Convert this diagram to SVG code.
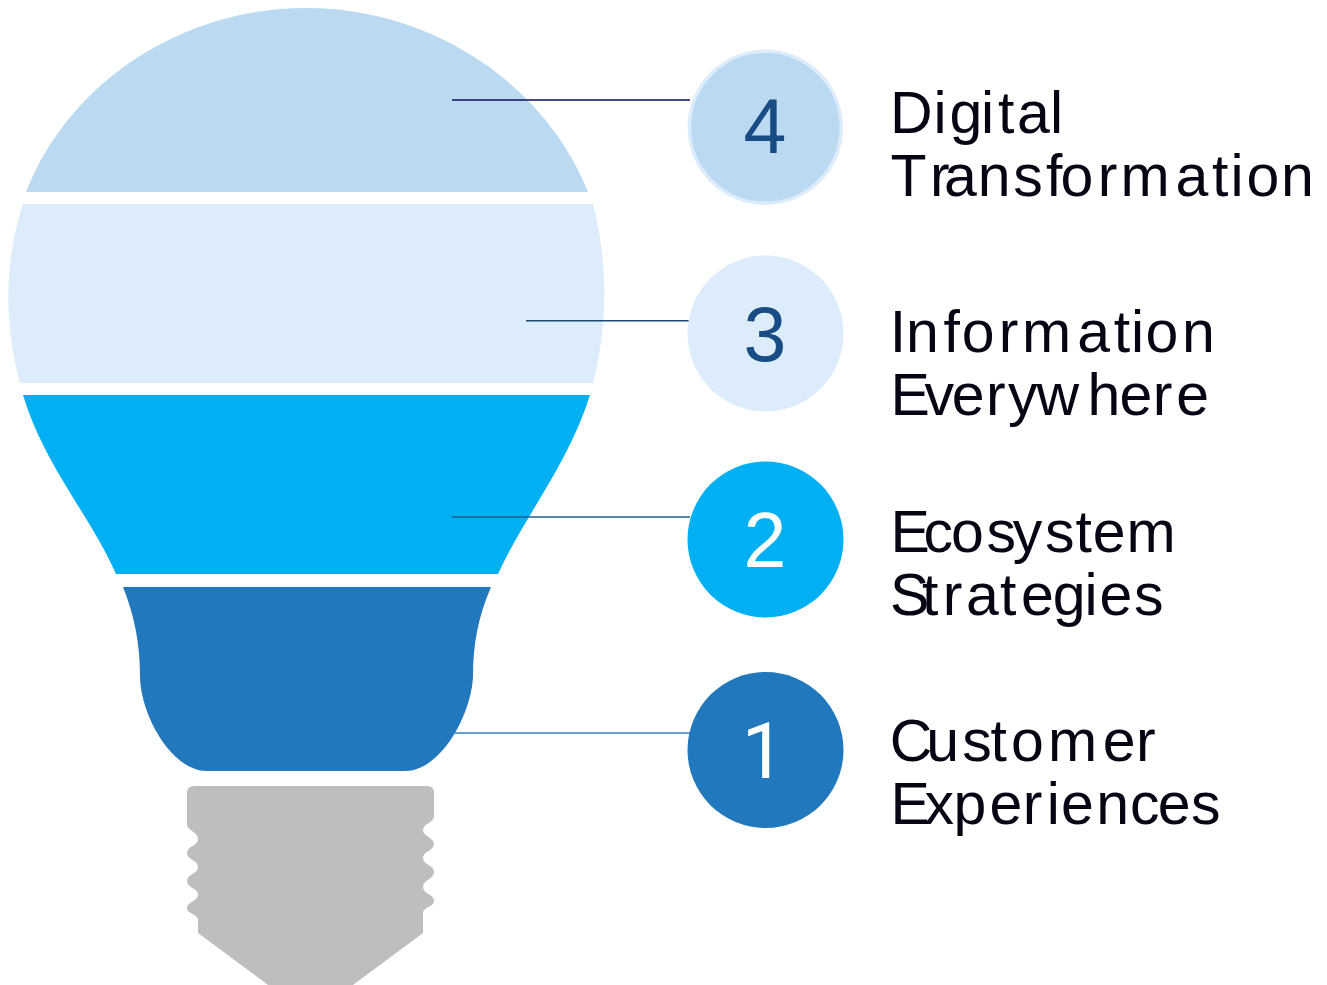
<svg xmlns="http://www.w3.org/2000/svg" width="1327" height="985" viewBox="0 0 1327 985">
<style>
text{font-family:"Liberation Sans",Arial,sans-serif}
.t{font-size:59px;fill:#050514}
.n{font-size:77px;text-anchor:middle}
.l{fill:none;stroke-width:1.5}
</style>
<rect width="1327" height="985" fill="#fff"/>
<g id="seg4"><path d="M26 192C68 84 180 8 306 8C432 8 545 84 588 192Z" fill="#bbdaf2"/></g>
<g id="seg3"><path d="M23 204H593C608 262 608 325 593 383H20C4 325 4 262 23 204Z" fill="#ddecfa"/></g>
<g id="seg2"><path d="M23 395H590C568 465 525 515 498 574H116C90 515 44 465 23 395Z" fill="#00b0f3"/></g>
<g id="seg1"><path d="M123 587H491C478 617 473 645 473 676C472 712 442 771 405 771H207C170 771 140 712 140 676C140 645 135 617 123 587Z" fill="#2278bc"/></g>
<g id="base"><path d="M187 793Q187 786 194 786H427Q434 786 434 793V817C434 822 423 824 423 830C423 836 434 838 434 844C434 851 423 851 423 858C423 865 434 865 434 872C434 879 423 880 423 887C423 894 434 894 434 901C434 907 423 907 423 913V933L353 985H268L198 933V920C198 914 187 914 187 908C187 902 198 901 198 895C198 888 187 888 187 881C187 874 198 874 198 867C198 860 187 860 187 853C187 846 198 846 198 839C198 832 187 830 187 825Z" fill="#bebebe"/></g>
<g id="connectors">
<line class="l" x1="452" y1="100" x2="690" y2="100" stroke="#0c1058"/>
<line class="l" x1="526" y1="320.700" x2="690" y2="320.700" stroke="#1a4a70"/>
<line class="l" x1="452" y1="517" x2="690" y2="517" stroke="#1f6090"/>
<line class="l" x1="452" y1="733" x2="690" y2="733" stroke="#2f80c8"/>
</g>
<g id="node4"><circle cx="765.300" cy="127.300" r="76" fill="#bbdaf2" stroke="#ddecfa" stroke-width="3.500"/><text class="n" x="765" y="153" fill="#174c84">4</text><text class="t"><tspan x="889.9 933.4 949.4 981.1 998.1 1017 1050" y="132.500">Digital</tspan><tspan x="890.5 930 944 977.7 1013.3 1046 1060.5 1097.7 1120.5 1175.5 1212.1 1230.4 1246.5 1281" y="196">Transformation</tspan></text></g>
<g id="node3"><circle cx="765.500" cy="333.500" r="78" fill="#ddecfa"/><text class="n" x="765" y="361" fill="#174c84">3</text><text class="t"><tspan x="889.7 906 943.4 961.7 998.7 1021.9 1077.2 1113.8 1131.1 1145.5 1182" y="351.500">Information</tspan><tspan x="890.4 924.4 951.7 986 1008 1036.5 1087.5 1119.4 1152.7 1176.2" y="415">Everywhere</tspan></text></g>
<g id="node2"><circle cx="765.500" cy="539.500" r="78" fill="#00b0f3"/><text class="n" x="765" y="566.500" fill="#fff">2</text><text class="t"><tspan x="890.4 923.5 951 986.6 1012.7 1045 1075.5 1092.7 1126.4" y="551.500">Ecosystem</tspan><tspan x="890.1 922.1 942.7 966 1000 1021 1052.7 1084.4 1099.4 1134" y="615">Strategies</tspan></text></g>
<g id="node1"><circle cx="765.500" cy="750" r="78" fill="#2278bc"/><text class="n" x="763.500" y="777.500" fill="#fff" style="font-family:Roboto,sans-serif">1</text><text class="t"><tspan x="889.8 926.2 962.3 990.5 1011 1047.9 1102.7 1136" y="760.500">Customer</tspan><tspan x="890.4 924.4 953.5 989.4 1022.7 1046.8 1061 1096.2 1130 1157.7 1191" y="824">Experiences</tspan></text></g>
</svg>
